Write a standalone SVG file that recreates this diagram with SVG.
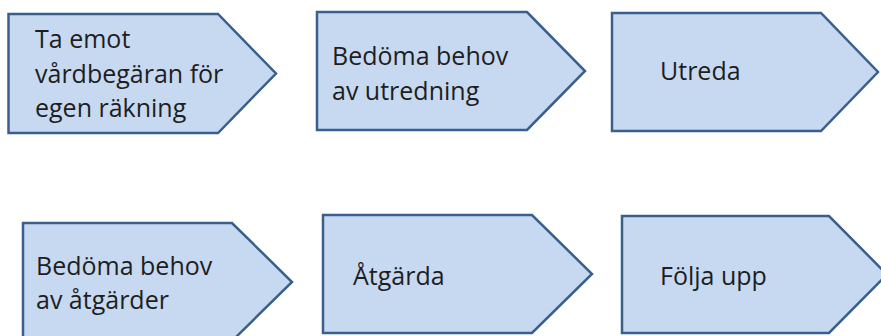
<svg xmlns="http://www.w3.org/2000/svg" width="881" height="336" viewBox="0 0 881 336">
<style>
.shape{fill:#C6D9F1;stroke:#3A5F8C;stroke-width:2.5;stroke-linejoin:miter}
.lbl{font-family:"Open Sans","Liberation Sans",sans-serif;font-size:25px;fill:#1e1e1e}
</style>
<rect width="881" height="336" fill="#ffffff"/>
<g id="connectors"/>
<g id="n1">
<polygon class="shape" points="8.5,14 218,14 276,73.5 218,133 8.5,133"/>
<text class="lbl" x="35" y="48">Ta emot</text>
<text class="lbl" x="35" y="83">vårdbegäran för</text>
<text class="lbl" x="35" y="117">egen räkning</text>
</g>
<g id="n2">
<polygon class="shape" points="317,12 527,12 585,71 527,130 317,130"/>
<text class="lbl" x="332" y="65">Bedöma behov</text>
<text class="lbl" x="332" y="100">av utredning</text>
</g>
<g id="n3">
<polygon class="shape" points="612,13 821,13 878,72 821,131 612,131"/>
<text class="lbl" x="660" y="80">Utreda</text>
</g>
<g id="n4">
<polygon class="shape" points="23,223 232,223 292,282 232,341 23,341"/>
<text class="lbl" x="36" y="275">Bedöma behov</text>
<text class="lbl" x="36" y="309">av åtgärder</text>
</g>
<g id="n5">
<polygon class="shape" points="323,215 532,215 592,274 532,333 323,333"/>
<text class="lbl" x="353" y="285">Åtgärda</text>
</g>
<g id="n6">
<polygon class="shape" points="622,216 829,216 887,274.5 829,333 622,333"/>
<text class="lbl" x="660" y="285">Följa upp</text>
</g>
</svg>
